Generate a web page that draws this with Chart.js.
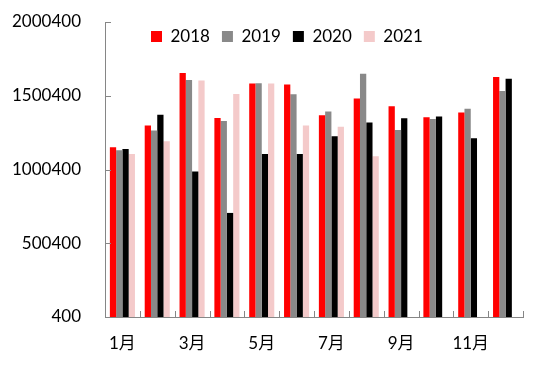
<!DOCTYPE html>
<html>
<head>
<meta charset="utf-8">
<script src="https://cdn.jsdelivr.net/npm/chart.js@4/dist/chart.umd.min.js"></script>
<style>
html,body{margin:0;padding:0;background:#fff;}
#wrap{width:550px;height:366px;position:relative;}
</style>
</head>
<body>
<div id="wrap"><canvas id="c" width="550" height="366"></canvas></div>
<script>
const categories = ['1月','2月','3月','4月','5月','6月','7月','8月','9月','10月','11月','12月'];
const series2018 = [1151000,1298000,1654000,1350000,1583000,1577000,1369000,1482000,1430000,1355000,1387000,1627000];
const series2019 = [1131000,1264000,1608000,1330000,1585000,1511000,1393000,1649000,1269000,1342000,1412000,1532000];
const series2020 = [1140000,1371000,986000,706000,1106000,1106000,1226000,1319000,1348000,1359000,1213000,1615000];
const series2021 = [1106000,1192000,1604000,1513000,1583000,1298000,1290000,1091000,null,null,null,null];
const seriesNames = ['2018','2019','2020','2021'];
const yTicks = [400,500400,1000400,1500400,2000400];

const FONT = "Lato, 'Noto Sans CJK SC', sans-serif";
const AXIS = '#868686';

const insideTicks = {
  id:'insideTicks',
  afterDraw(chart){
    const ctx = chart.ctx, a = chart.chartArea;
    const x = chart.scales.x, y = chart.scales.y;
    ctx.save();
    ctx.strokeStyle = AXIS; ctx.lineWidth = 1;
    ctx.beginPath();
    yTicks.forEach(v=>{
      const py = Math.round(y.getPixelForValue(v))+0.5;
      ctx.moveTo(a.left, py); ctx.lineTo(a.left+6, py);
    });
    const n = categories.length;
    for(let i=0;i<=n;i++){
      let px;
      if(i===0) px = a.left;
      else if(i===n) px = a.right;
      else px = (x.getPixelForValue(i-1)+x.getPixelForValue(i))/2;
      px = Math.round(px)+0.5;
      ctx.moveTo(px, a.bottom); ctx.lineTo(px, a.bottom-6);
    }
    ctx.stroke();
    ctx.restore();
  }
};

const legendInPlot = {
  id:'legendInPlot',
  beforeLayout(chart){
    const l = chart.legend;
    if(l && !l._horizPatched){
      l.isHorizontal = () => true;
      l._horizPatched = true;
    }
  },
  afterLayout(chart){
    const l = chart.legend;
    if(!l) return;
    const h = l.height;
    l.left = 139; l.right = 139 + 400; l.width = 400;
    l.top = 16; l.bottom = 16 + h;
  }
};

new Chart(document.getElementById('c'), {
  type:'bar',
  data:{
    labels: categories,
    datasets:[
      {label:seriesNames[0], data:series2018, backgroundColor:'#FF0000'},
      {label:seriesNames[1], data:series2019, backgroundColor:'#898989'},
      {label:seriesNames[2], data:series2020, backgroundColor:'#000000'},
      {label:seriesNames[3], data:series2021, backgroundColor:'#F4CACA'}
    ]
  },
  options:{
    responsive:false,
    animation:false,
    datasets:{bar:{categoryPercentage:0.72, barPercentage:1.0}},
    layout:{padding:{top:22,right:27,left:0,bottom:0}},
    plugins:{
      legend:{
        position:'chartArea',
        align:'start',
        labels:{boxWidth:11, boxHeight:11, padding:12, color:'#000', font:{family:FONT, size:17}}
      },
      tooltip:{enabled:false}
    },
    scales:{
      x:{
        grid:{display:false},
        border:{color:AXIS, width:1},
        ticks:{
          autoSkip:false, maxRotation:0, padding:8, color:'#000',
          font:{family:FONT, size:17},
          callback:(v,i)=> i%2===0 ? categories[i] : ''
        },
        afterFit(s){ s.height = 49; s.paddingLeft = 0; s.paddingRight = 0; }
      },
      y:{
        min:400, max:2000400,
        grid:{display:false},
        border:{color:AXIS, width:1},
        ticks:{padding:16, color:'#000', font:{family:FONT, size:17}, callback:(v)=>String(v)},
        afterBuildTicks(s){ s.ticks = yTicks.map(v=>({value:v})); },
        afterFit(s){ s.width = 105; s.paddingTop = 0; s.paddingBottom = 0; }
      }
    }
  },
  plugins:[insideTicks, legendInPlot]
});
</script>
</body>
</html>
